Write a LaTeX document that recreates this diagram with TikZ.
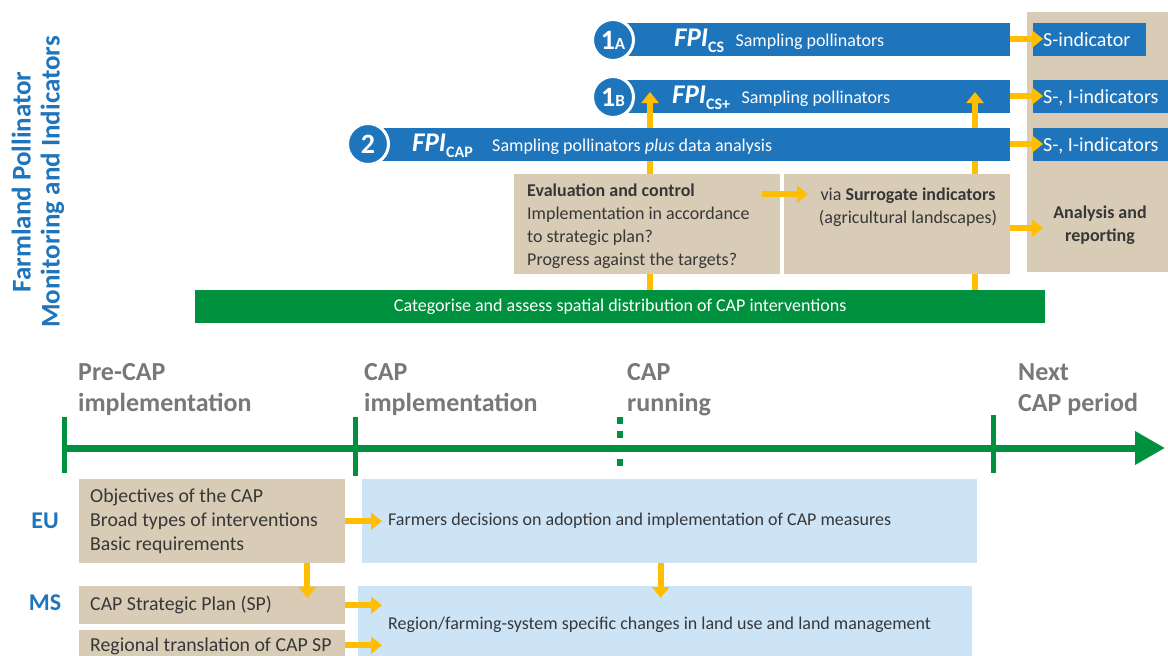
\documentclass[tikz,border=0pt]{standalone}
\usepackage{fontspec}
\setmainfont{Carlito}
\usetikzlibrary{arrows.meta,positioning}
\definecolor{fpiblue}{RGB}{31,117,188}
\definecolor{captan}{RGB}{216,204,182}
\definecolor{capgreen}{RGB}{0,145,62}
\definecolor{capyellow}{RGB}{255,190,0}
\definecolor{caplight}{RGB}{205,228,247}
\definecolor{phasegray}{RGB}{120,120,120}
\definecolor{bodygray}{RGB}{55,55,55}
\newcommand{\fsz}[2]{\fontsize{#1}{#2}\selectfont}
\newcommand{\fpisub}[1]{\raisebox{-6pt}{\upshape\fsz{16}{16}#1}}
\newcommand{\discsub}[1]{{\fsz{17}{17}#1}}

\begin{document}
\begin{tikzpicture}[x=1pt,y=-1pt,
  bar/.style={fill=fpiblue,inner sep=0pt,minimum height=33pt,anchor=west},
  numdisc/.style={circle,fill=fpiblue,draw=white,line width=3pt,minimum size=41pt,
    inner sep=0pt,text=white,font=\bfseries\fsz{28}{28}},
  fpi/.style={text=white,font=\bfseries\itshape\fsz{27}{27},inner sep=0pt,anchor=base west},
  bartext/.style={text=white,font=\fsz{18}{22},inner sep=0pt},
  tanbox/.style={fill=captan,inner sep=0pt,anchor=north west},
  lightbox/.style={fill=caplight,inner sep=0pt,anchor=north west},
  body/.style={text=bodygray,font=\fsz{19.8}{24},align=left,inner sep=0pt},
  yarrow/.style={draw=capyellow,line width=6pt,-{Triangle[length=11pt,width=17pt]}},
  phase/.style={text=phasegray,font=\bfseries\fsz{26}{31},align=left,inner sep=0pt,anchor=north west},
  level/.style={text=fpiblue,font=\bfseries\fsz{24}{24},inner sep=0pt},
  tick/.style={draw=capgreen,line width=5pt}]
\useasboundingbox (0,0) rectangle (1168,656);

% title
\node[text=fpiblue,font=\bfseries\fsz{27}{29},align=center,rotate=90] (title) at (38,182)
  {Farmland Pollinator\\Monitoring and Indicators};

% reporting panel
\node[tanbox,minimum width=141pt,minimum height=260pt] (panel) at (1027,12) {};
\node[bar,minimum width=113pt] (indA) at (1033,39) {};
\node[bar,minimum width=135pt] (indB) at (1033,96) {};
\node[bar,minimum width=135pt] (indC) at (1033,144) {};
\node[bartext,font=\fsz{20}{22},anchor=base west] (indAtext) at (1043,46) {S-indicator};
\node[bartext,font=\fsz{20}{22},anchor=base west] (indBtext) at (1043,103) {S-, I-indicators};
\node[bartext,font=\fsz{20}{22},anchor=base west] (indCtext) at (1043,151) {S-, I-indicators};
\node[text=bodygray,font=\bfseries\fsz{18}{23},align=center] (analysis) at (1100,225)
  {Analysis and\\reporting};

% sampling schemes
\node[bar,minimum width=398pt] (barA) at (612,39) {};
\node[bar,minimum width=398pt] (barB) at (612,96) {};
\node[fill=capgreen,minimum width=850pt,minimum height=33pt,inner sep=0pt,anchor=north west,
  text=white,font=\fsz{18}{22}] (spatial) at (195,290)
  {Categorise and assess spatial distribution of CAP interventions};
\coordinate (tipL) at (650,92);
\coordinate (tipR) at (975,92);
\draw[yarrow] (spatial.north -| tipL) -- (tipL);
\draw[yarrow] (spatial.north -| tipR) -- (tipR);
\node[bar,minimum width=642pt] (barC) at (368,144) {};
\node[tanbox,minimum width=266pt,minimum height=100pt] (eval) at (514,174) {};
\node[tanbox,minimum width=226pt,minimum height=100pt] (via) at (784,174) {};

\node[numdisc] (discA) at (613,40) {1\discsub{A}};
\node[numdisc] (discB) at (613,97) {1\discsub{B}};
\node[numdisc] (discC) at (368,144) {2};
\node[fpi] (fpiA) at (674,46) {FPI\fpisub{CS}};
\node[fpi] (fpiB) at (672,103) {FPI\fpisub{CS+}};
\node[fpi] (fpiC) at (412,151) {FPI\fpisub{CAP}};
\node[bartext,base right=11pt of fpiA] (sampA) {Sampling pollinators};
\node[bartext,base right=11pt of fpiB] (sampB) {Sampling pollinators};
\node[bartext,base right=19pt of fpiC] (sampC) {Sampling pollinators \textit{plus} data analysis};

\draw[yarrow] (barA.east) -- (indAtext.base west |- barA.east);
\draw[yarrow] (barB.east) -- (indBtext.base west |- barB.east);
\draw[yarrow] (barC.east) -- (indCtext.base west |- barC.east);

\node[body,font=\fsz{18}{23},anchor=west] (evaltext) at (527,226)
  {\textbf{Evaluation and control}\\Implementation in accordance\\to strategic plan?\\Progress against the targets?};
\node[body,font=\fsz{18}{23},align=center] (viatext) at (908,207)
  {via \textbf{Surrogate indicators}\\(agricultural landscapes)};
\draw[yarrow] ([xshift=-18pt,yshift=30pt]eval.east) -- ([xshift=24pt,yshift=30pt]via.west);
\coordinate (repin) at (1043,228);
\draw[yarrow] (via.east |- repin) -- (repin);

% timeline
\coordinate (t0) at (64,448);
\coordinate (tend) at (1165,448);
\draw[capgreen,line width=7pt,-{Triangle[length=30pt,width=32pt]}] (t0) -- (tend);
\foreach \tx/\ta/\tb in {64/417/473,355/417/476,993/415/473}
  \draw[tick] (\tx,\ta) -- (\tx,\tb);
\draw[capgreen,line width=6pt,dash pattern=on 7pt off 7pt] (620,417) -- (620,466);
\node[phase] (pre) at (78,363) {Pre-CAP\\implementation};
\node[phase] (impl) at (364,363) {CAP\\implementation};
\node[phase] (run) at (627,363) {CAP\\running};
\node[phase] (next) at (1018,363) {Next\\CAP period};

% governance levels
\node[tanbox,minimum width=266pt,minimum height=84pt] (eu) at (79,479) {};
\node[body,anchor=west] (eutext) at (90,521) {Objectives of the CAP\\Broad types of interventions\\Basic requirements};
\node[level] (eulabel) at (45,521) {EU};
\node[lightbox,minimum width=615pt,minimum height=84pt] (farm) at (362,479) {};
\node[body,font=\fsz{18}{22},anchor=west] (farmtext) at (388,521) {Farmers decisions on adoption and implementation of CAP measures};
\node[tanbox,minimum width=266pt,minimum height=38pt] (sp) at (79,586) {};
\node[body,anchor=west] (sptext) at (90,605) {CAP Strategic Plan (SP)};
\node[tanbox,minimum width=266pt,minimum height=30pt] (reg) at (79,630) {};
\node[body,anchor=west] (regtext) at (90,646) {Regional translation of CAP SP};
\node[level] (mslabel) at (45,603) {MS};
\node[lightbox,minimum width=614pt,minimum height=70pt] (region) at (358,586) {};
\node[body,font=\fsz{18}{22},anchor=west] (regiontext) at (388,625) {Region/farming-system specific changes in land use and land management};

\draw[yarrow,shorten >=6pt] (eu.east) -- (eu.east -| farmtext.west);
\draw[yarrow,shorten >=6pt] (sp.east) -- (sp.east -| regiontext.west);
\draw[yarrow,shorten >=6pt] (reg.east) -- (reg.east -| regiontext.west);
\draw[yarrow] ([xshift=-38pt]eu.south east) -- ([xshift=-38pt,yshift=-12pt]sp.north east);
\draw[yarrow] ([xshift=-9pt]farm.south) -- ([xshift=-9pt,yshift=-12pt]region.north -| farm.south);
\end{tikzpicture}
\end{document}
